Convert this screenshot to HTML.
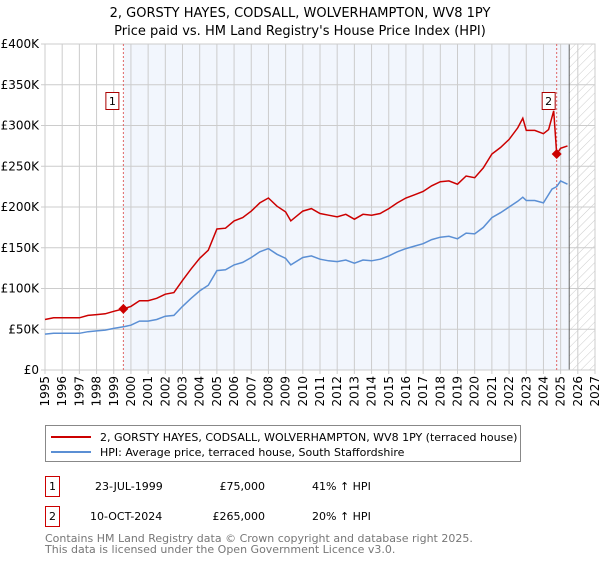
<!DOCTYPE html>
<html><head><meta charset="utf-8"><style>
body{margin:0;background:#fff;font-family:"DejaVu Sans","Liberation Sans",sans-serif;}
svg text{font-family:"DejaVu Sans","Liberation Sans",sans-serif;}
</style></head><body>
<svg id="chart" width="600" height="560" xmlns="http://www.w3.org/2000/svg">
<defs><pattern id="hatch" width="6" height="6" patternUnits="userSpaceOnUse" patternTransform="rotate(45)"><line x1="0" y1="0" x2="0" y2="6" stroke="#ccc" stroke-width="1"/></pattern></defs>
<text x="300" y="17" text-anchor="middle" font-size="13">2, GORSTY HAYES, CODSALL, WOLVERHAMPTON, WV8 1PY</text>
<text x="300" y="35" text-anchor="middle" font-size="13">Price paid vs. HM Land Registry's House Price Index (HPI)</text>
<g id="plot"></g>
<g>
<rect x="45.5" y="425.5" width="475" height="36" fill="#fff" stroke="#888"/>
<line x1="51" y1="437" x2="91" y2="437" stroke="#cc0000" stroke-width="2"/>
<text x="100" y="441" font-size="11">2, GORSTY HAYES, CODSALL, WOLVERHAMPTON, WV8 1PY (terraced house)</text>
<line x1="51" y1="452" x2="91" y2="452" stroke="#5b8fd4" stroke-width="2"/>
<text x="100" y="456" font-size="11">HPI: Average price, terraced house, South Staffordshire</text>
</g>
<g font-size="11">
<rect x="45.5" y="476.5" width="14" height="20" fill="#fff" stroke="#cc0000"/><text x="52.5" y="490" text-anchor="middle">1</text>
<text x="95" y="490">23-JUL-1999</text><text x="265" y="490" text-anchor="end">£75,000</text><text x="312" y="490">41% ↑ HPI</text>
<rect x="45.5" y="506.5" width="14" height="20" fill="#fff" stroke="#cc0000"/><text x="52.5" y="520" text-anchor="middle">2</text>
<text x="90" y="520">10-OCT-2024</text><text x="265" y="520" text-anchor="end">£265,000</text><text x="312" y="520">20% ↑ HPI</text>
</g>
<text x="45" y="542" font-size="11" fill="#777">Contains HM Land Registry data © Crown copyright and database right 2025.</text>
<text x="45" y="553" font-size="11" fill="#777">This data is licensed under the Open Government Licence v3.0.</text>
</svg>
<script>
const yearTicks=[1995,1996,1997,1998,1999,2000,2001,2002,2003,2004,2005,2006,2007,2008,2009,2010,2011,2012,2013,2014,2015,2016,2017,2018,2019,2020,2021,2022,2023,2024,2025,2026,2027];
const priceTicks=[0,50,100,150,200,250,300,350,400];
const priceLabels=["£0","£50K","£100K","£150K","£200K","£250K","£300K","£350K","£400K"];
const hpiDates=[1995,1995.5,1996,1996.5,1997,1997.5,1998,1998.5,1999,1999.56,2000,2000.5,2001,2001.5,2002,2002.5,2003,2003.5,2004,2004.5,2005,2005.5,2006,2006.5,2007,2007.5,2008,2008.5,2009,2009.3,2010,2010.5,2011,2011.5,2012,2012.5,2013,2013.5,2014,2014.5,2015,2015.5,2016,2016.5,2017,2017.5,2018,2018.5,2019,2019.5,2020,2020.5,2021,2021.5,2022,2022.5,2022.8,2023,2023.5,2024,2024.5,2024.77,2025,2025.4];
const hpiValues=[44,45,45,45,45,47,48,49,51,53,55,60,60,62,66,67,78,88,97,104,122,123,129,132,138,145,149,142,137,129,138,140,136,134,133,135,131,135,134,136,140,145,149,152,155,160,163,164,161,168,167,175,187,193,200,207,212,208,208,205,222,225,232,228];
const priceDates=[1995,1995.5,1996,1996.5,1997,1997.5,1998,1998.5,1999,1999.56,2000,2000.5,2001,2001.5,2002,2002.5,2003,2003.5,2004,2004.5,2005,2005.5,2006,2006.5,2007,2007.5,2008,2008.5,2009,2009.3,2010,2010.5,2011,2011.5,2012,2012.5,2013,2013.5,2014,2014.5,2015,2015.5,2016,2016.5,2017,2017.5,2018,2018.5,2019,2019.5,2020,2020.5,2021,2021.5,2022,2022.5,2022.8,2023,2023.5,2024,2024.3,2024.6,2024.77,2025,2025.4];
const priceValues=[62,64,64,64,64,67,68,69,72,75,78,85,85,88,93,95,110,124,137,147,173,174,183,187,195,205,211,201,194,183,195,198,192,190,188,191,185,191,190,192,198,205,211,215,219,226,231,232,228,238,236,248,265,273,283,297,309,294,294,290,295,318,265,272,275];
const saleDates=[1999.56,2024.77];
const saleValues=[75,265];
const NS="http://www.w3.org/2000/svg";
const X0=45,X1=595,Y0=370,Y1=44;
const xs=y=>X0+(y-1995)/(2027-1995)*(X1-X0);
const ys=v=>Y0-v/400*(Y0-Y1);
const g=document.getElementById('plot');
function mk(t,a){const e=document.createElementNS(NS,t);for(const k in a)e.setAttribute(k,a[k]);g.appendChild(e);return e;}
let e=mk('rect',{x:xs(saleDates[0]),y:Y1,width:xs(2025.5)-xs(saleDates[0]),height:Y0-Y1,fill:'#f2f6fd'});


e=mk('rect',{x:xs(2025.5),y:Y1,width:X1-xs(2025.5),height:Y0-Y1,fill:'url(#hatch)'});


yearTicks.forEach(y=>{
 const l=mk('line',{x1:xs(y),x2:xs(y),y1:Y1,y2:Y0+4,stroke:'#ccc'});
 
 
 const t=mk('text',{x:0,y:0,'font-size':12,'text-anchor':'end',transform:`translate(${xs(y)+4},${Y0+6}) rotate(-90)`});
 t.textContent=y;
 
 
});
priceTicks.forEach((v,i)=>{
 const l=mk('line',{x1:X0-4,x2:X1,y1:ys(v),y2:ys(v),stroke:'#ccc'});
 
 
 const t=mk('text',{x:X0-6,y:ys(v)+4,'font-size':12,'text-anchor':'end'});
 t.textContent=priceLabels[i];
 
 
});
e=mk('line',{x1:xs(2025.5),x2:xs(2025.5),y1:Y1,y2:Y0,stroke:'#666'});


e=mk('rect',{x:X0,y:Y1,width:X1-X0,height:Y0-Y1,fill:'none',stroke:'#ccc'});


saleDates.forEach((d,i)=>{
 const l=mk('line',{x1:xs(d),x2:xs(d),y1:Y1,y2:Y0,stroke:'#e06666','stroke-dasharray':'2,2'});
 
 
});
const pts=(d,v)=>d.map((x,i)=>xs(x).toFixed(1)+','+ys(v[i]).toFixed(1)).join(' ');
e=mk('polyline',{points:pts(hpiDates,hpiValues),fill:'none',stroke:'#5b8fd4','stroke-width':1.5});


e=mk('polyline',{points:pts(priceDates,priceValues),fill:'none',stroke:'#cc0000','stroke-width':1.5});


saleDates.forEach((d,i)=>{
 const cx=xs(d),cy=ys(saleValues[i]);
 const p=mk('polygon',{points:`${cx},${cy-5} ${cx+5},${cy} ${cx},${cy+5} ${cx-5},${cy}`,fill:'#cc0000'});
 
 
 const bx=cx-(i==0?11:8);
 const r=mk('rect',{x:bx-6.5,y:92.5,width:13,height:17,fill:'#fff',stroke:'#aa0000'});
 
 
 const t=mk('text',{x:bx,y:105,'font-size':11,'text-anchor':'middle'});
 t.textContent=String(i+1);
 
 
});
</script>
</body></html>
